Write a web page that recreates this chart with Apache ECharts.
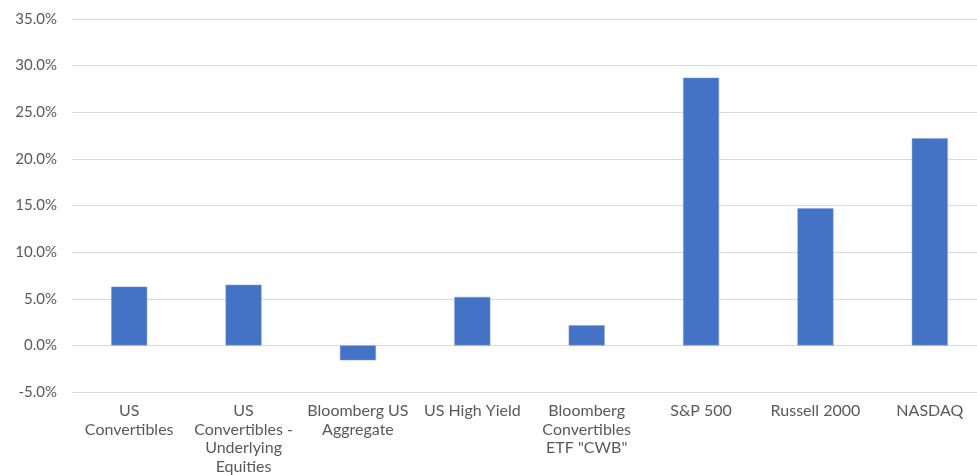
<!DOCTYPE html>
<html>
<head>
<meta charset="utf-8">
<script src="https://cdn.jsdelivr.net/npm/echarts@6/dist/echarts.min.js"></script>
<style>html,body{margin:0;padding:0;background:#fff}#c{width:977px;height:475px}</style>
</head>
<body>
<div id="c"></div>
<script>
const categories = ["US\nConvertibles", "US\nConvertibles -\nUnderlying\nEquities", "Bloomberg US\nAggregate", "US High Yield", "Bloomberg\nConvertibles\nETF \"CWB\"", "S&P 500", "Russell 2000", "NASDAQ"];
const returns = [6.3, 6.5, -1.6, 5.2, 2.15, 28.7, 14.7, 22.2];
const yMin = -5, yMax = 35, yStep = 5;

const chart = echarts.init(document.getElementById('c'), null, {renderer: 'canvas'});
chart.setOption({
  animation: false,
  backgroundColor: '#fff',
  grid: {left: 72, top: 19, width: 915, height: 373, containLabel: false, outerBoundsMode: 'none'},
  xAxis: {
    type: 'category',
    data: categories,
    axisLine: {show: false, onZero: false},
    axisTick: {show: false},
    axisLabel: {color: '#595959', fontFamily: 'Lato', fontSize: 16, lineHeight: 18.5, margin: 10, interval: 0}
  },
  yAxis: {
    type: 'value',
    min: yMin, max: yMax, interval: yStep,
    axisLine: {show: false},
    axisTick: {show: false},
    splitLine: {lineStyle: {color: '#d9d9d9', width: 1}},
    axisLabel: {color: '#595959', fontFamily: 'Lato', fontSize: 15, margin: 15,
      formatter: v => v.toFixed(1) + '%'}
  },
  series: [{
    type: 'bar',
    data: returns,
    barWidth: 36,
    itemStyle: {color: '#4472c4', borderColor: '#7f9fd8', borderWidth: 0.5}
  }]
});
</script>
</body>
</html>
